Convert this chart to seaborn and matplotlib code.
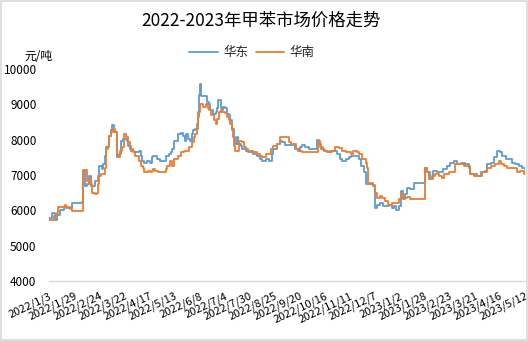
import matplotlib
matplotlib.use("Agg")
import matplotlib.pyplot as plt
import matplotlib.dates as mdates
from matplotlib.patches import Rectangle
import pandas as pd
import seaborn as sns

# 华东 toluene price, 元/吨 (date of each price change)
east_dates = [
    "2022-01-03", "2022-01-06", "2022-01-09", "2022-01-11", "2022-01-14", "2022-01-18",
    "2022-01-21", "2022-01-27", "2022-02-06", "2022-02-07", "2022-02-09", "2022-02-11",
    "2022-02-13", "2022-02-15", "2022-02-20", "2022-02-23", "2022-02-24", "2022-02-27",
    "2022-02-28", "2022-03-02", "2022-03-03", "2022-03-06", "2022-03-08", "2022-03-09",
    "2022-03-11", "2022-03-14", "2022-03-15", "2022-03-17", "2022-03-19", "2022-03-21",
    "2022-03-25", "2022-03-26", "2022-03-29", "2022-04-01", "2022-04-06", "2022-04-08",
    "2022-04-09", "2022-04-12", "2022-04-15", "2022-04-18", "2022-04-20", "2022-04-21",
    "2022-04-25", "2022-04-28", "2022-05-04", "2022-05-07", "2022-05-10", "2022-05-11",
    "2022-05-13", "2022-05-17", "2022-05-20", "2022-05-22", "2022-05-24", "2022-05-25",
    "2022-05-27", "2022-05-29", "2022-05-31", "2022-06-01", "2022-06-04", "2022-06-07",
    "2022-06-08", "2022-06-09", "2022-06-10", "2022-06-16", "2022-06-18", "2022-06-19",
    "2022-06-22", "2022-06-25", "2022-06-26", "2022-06-27", "2022-06-30", "2022-07-02",
    "2022-07-03", "2022-07-05", "2022-07-07", "2022-07-09", "2022-07-10", "2022-07-12",
    "2022-07-14", "2022-07-15", "2022-07-17", "2022-07-18", "2022-07-21", "2022-07-22",
    "2022-07-26", "2022-07-29", "2022-08-02", "2022-08-03", "2022-08-07", "2022-08-10",
    "2022-08-12", "2022-08-16", "2022-08-19", "2022-08-22", "2022-08-24", "2022-08-28",
    "2022-08-31", "2022-09-02", "2022-09-05", "2022-09-15", "2022-09-18", "2022-09-21",
    "2022-09-23", "2022-09-26", "2022-09-30", "2022-10-08", "2022-10-10", "2022-10-12",
    "2022-10-15", "2022-10-19", "2022-10-22", "2022-10-29", "2022-11-01", "2022-11-03",
    "2022-11-07", "2022-11-10", "2022-11-13", "2022-11-21", "2022-11-23", "2022-11-26",
    "2022-11-28", "2022-12-05", "2022-12-07", "2022-12-10", "2022-12-13", "2022-12-16",
    "2022-12-22", "2022-12-25", "2022-12-27", "2022-12-29", "2023-01-01", "2023-01-03",
    "2023-01-05", "2023-01-08", "2023-01-10", "2023-01-13", "2023-01-17", "2023-01-28",
    "2023-01-30", "2023-02-03", "2023-02-06", "2023-02-10", "2023-02-16", "2023-02-20",
    "2023-02-23", "2023-02-27", "2023-03-03", "2023-03-07", "2023-03-11", "2023-03-15",
    "2023-03-16", "2023-03-23", "2023-03-28", "2023-04-01", "2023-04-03", "2023-04-07",
    "2023-04-10", "2023-04-13", "2023-04-16", "2023-04-18", "2023-04-22", "2023-04-29",
    "2023-05-02", "2023-05-06", "2023-05-09", "2023-05-12",
]
east_prices = [
    5780, 5920, 5730, 5880, 6020, 6090,
    6070, 6210, 6240, 7110, 6690, 6730,
    6970, 6690, 6830, 6970, 7260, 7160,
    7300, 7540, 7780, 8110, 8260, 8400,
    8210, 7690, 7500, 7590, 7970, 8020,
    7970, 7830, 7690, 7640, 7690, 7540,
    7400, 7350, 7400, 7350, 7500, 7540,
    7450, 7400, 7540, 7590, 7640, 7730,
    7970, 8160, 8180, 8110, 7970, 8160,
    8020, 7970, 8160, 8260, 8300, 8640,
    9260, 9570, 9220, 9070, 9020, 8830,
    8730, 8780, 8880, 9110, 8880, 8830,
    8920, 8880, 8730, 8690, 8540, 8300,
    8070, 7880, 8070, 7880, 7830, 7730,
    7690, 7640, 7690, 7590, 7540, 7450,
    7400, 7450, 7400, 7590, 7730, 7880,
    7970, 7920, 7850, 7730, 7690, 7780,
    7860, 7780, 7730, 7990, 7880, 7730,
    7690, 7640, 7690, 7590, 7450, 7400,
    7450, 7500, 7540, 7450, 7260, 7070,
    6730, 6690, 6070, 6160, 6210, 6110,
    6160, 6070, 6110, 6020, 6110, 6540,
    6310, 6450, 6640, 6590, 6780, 7210,
    7070, 6880, 7110, 7070, 7160, 7260,
    7350, 7400, 7310, 7350, 7310, 7260,
    7020, 6970, 7070, 7110, 7310, 7350,
    7500, 7670, 7640, 7540, 7450, 7350,
    7310, 7260, 7210, 7160,
]

# 华南 toluene price, 元/吨
south_dates = [
    "2022-01-03", "2022-01-08", "2022-01-11", "2022-01-12", "2022-01-20", "2022-01-21",
    "2022-01-25", "2022-01-27", "2022-02-06", "2022-02-07", "2022-02-11", "2022-02-13",
    "2022-02-14", "2022-02-16", "2022-02-17", "2022-02-20", "2022-02-22", "2022-02-23",
    "2022-02-24", "2022-02-26", "2022-03-02", "2022-03-03", "2022-03-05", "2022-03-06",
    "2022-03-08", "2022-03-10", "2022-03-12", "2022-03-14", "2022-03-15", "2022-03-17",
    "2022-03-18", "2022-03-20", "2022-03-22", "2022-03-24", "2022-03-26", "2022-03-28",
    "2022-03-31", "2022-04-02", "2022-04-06", "2022-04-08", "2022-04-10", "2022-04-12",
    "2022-04-16", "2022-04-18", "2022-04-20", "2022-04-21", "2022-04-23", "2022-04-26",
    "2022-05-04", "2022-05-05", "2022-05-09", "2022-05-11", "2022-05-13", "2022-05-17",
    "2022-05-20", "2022-05-23", "2022-05-28", "2022-05-31", "2022-06-02", "2022-06-04",
    "2022-06-06", "2022-06-07", "2022-06-09", "2022-06-12", "2022-06-15", "2022-06-17",
    "2022-06-18", "2022-06-20", "2022-06-23", "2022-06-25", "2022-06-26", "2022-06-28",
    "2022-06-30", "2022-07-02", "2022-07-05", "2022-07-07", "2022-07-09", "2022-07-10",
    "2022-07-12", "2022-07-13", "2022-07-14", "2022-07-15", "2022-07-19", "2022-07-22",
    "2022-07-24", "2022-07-26", "2022-07-29", "2022-08-02", "2022-08-07", "2022-08-10",
    "2022-08-12", "2022-08-16", "2022-08-21", "2022-08-24", "2022-08-28", "2022-08-31",
    "2022-09-09", "2022-09-11", "2022-09-16", "2022-09-19", "2022-09-23", "2022-10-09",
    "2022-10-11", "2022-10-14", "2022-10-17", "2022-10-20", "2022-10-24", "2022-10-27",
    "2022-10-31", "2022-11-03", "2022-11-07", "2022-11-12", "2022-11-15", "2022-11-19",
    "2022-11-21", "2022-11-24", "2022-11-28", "2022-11-29", "2022-11-30", "2022-12-05",
    "2022-12-07", "2022-12-10", "2022-12-13", "2022-12-15", "2022-12-18", "2022-12-21",
    "2022-12-25", "2023-01-01", "2023-01-03", "2023-01-06", "2023-01-10", "2023-01-13",
    "2023-01-28", "2023-01-30", "2023-02-02", "2023-02-05", "2023-02-08", "2023-02-12",
    "2023-02-15", "2023-02-17", "2023-02-22", "2023-02-28", "2023-03-10", "2023-03-15",
    "2023-03-16", "2023-03-20", "2023-03-29", "2023-04-03", "2023-04-07", "2023-04-11",
    "2023-04-15", "2023-04-17", "2023-04-20", "2023-04-24", "2023-05-04", "2023-05-07",
    "2023-05-11", "2023-05-12",
]
south_prices = [
    5720, 5850, 5920, 6090, 6140, 6090,
    6040, 5970, 5970, 7130, 6830, 6730,
    6920, 6730, 6500, 6450, 6500, 6730,
    6970, 7020, 7210, 7730, 7830, 8110,
    8210, 8300, 8210, 8070, 7540, 7500,
    7690, 7780, 8160, 8070, 7920, 7730,
    7640, 7540, 7400, 7260, 7210, 7070,
    7110, 7070, 7110, 7160, 7110, 7070,
    7160, 7260, 7400, 7260, 7450, 7540,
    7640, 7690, 7780, 7920, 8070, 8160,
    8450, 8780, 9020, 8920, 9020, 8880,
    8830, 8690, 8540, 8450, 8590, 8780,
    8830, 8780, 8760, 8640, 8540, 8450,
    8260, 8070, 7830, 7690, 7970, 7920,
    7780, 7730, 7690, 7640, 7590, 7540,
    7500, 7590, 7730, 7830, 7880, 8070,
    7920, 7880, 7730, 7690, 7640, 7970,
    7780, 7710, 7690, 7640, 7690, 7780,
    7760, 7690, 7640, 7590, 7690, 7640,
    7590, 7450, 7350, 7210, 6780, 6710,
    6500, 6350, 6400, 6350, 6260, 6160,
    6210, 6310, 6450, 6350, 6370, 6330,
    7210, 7070, 6880, 6970, 7020, 6970,
    6920, 7020, 7070, 7310, 7260, 7210,
    7020, 6970, 7070, 7210, 7260, 7310,
    7400, 7310, 7260, 7190, 7070, 7100,
    7020, 7020,
]

series_names = ["华东", "华南"]
series_colors = ["#5B9BD5", "#ED7D31"]
x_tick_labels = [
    "2022/1/3", "2022/1/29", "2022/2/24", "2022/3/22", "2022/4/17", "2022/5/13",
    "2022/6/8", "2022/7/4", "2022/7/30", "2022/8/25", "2022/9/20", "2022/10/16",
    "2022/11/11", "2022/12/7", "2023/1/2", "2023/1/28", "2023/2/23", "2023/3/21",
    "2023/4/16", "2023/5/12",
]
y_ticks = [4000, 5000, 6000, 7000, 8000, 9000, 10000]

df = pd.concat([
    pd.DataFrame({"日期": pd.to_datetime(east_dates), "价格": east_prices, "地区": series_names[0]}),
    pd.DataFrame({"日期": pd.to_datetime(south_dates), "价格": south_prices, "地区": series_names[1]}),
], ignore_index=True)

sns.set_theme(style="white")
plt.rcParams["font.family"] = ["Noto Sans CJK SC", "DejaVu Sans"]

fig = plt.figure(figsize=(5.28, 3.41), dpi=100)
ax = fig.add_axes([0.093, 0.176, 0.901, 0.622])

sns.lineplot(data=df, x="日期", y="价格", hue="地区", hue_order=series_names,
             palette=series_colors, estimator=None, drawstyle="steps-post",
             linewidth=1.3, ax=ax, legend=True)

tick_pos = pd.to_datetime(x_tick_labels, format="%Y/%m/%d")
ax.set_xlim(tick_pos[0], tick_pos[-1])
ax.set_xticks(tick_pos)
ax.set_xticklabels(x_tick_labels, rotation=25, ha="right", rotation_mode="anchor",
                   fontsize=8)
ax.set_ylim(y_ticks[0], y_ticks[-1])
ax.set_yticks(y_ticks)
ax.set_yticklabels([str(v) for v in y_ticks], fontsize=8.5)
ax.set_xlabel("")
ax.set_ylabel("")

for side in ("left", "right", "top"):
    ax.spines[side].set_visible(False)
ax.spines["bottom"].set_color("#D9D9D9")
ax.spines["bottom"].set_linewidth(1)
ax.tick_params(axis="x", direction="out", length=4, width=1, color="#D9D9D9",
               pad=3, labelcolor="#000000")
ax.tick_params(axis="y", length=0, pad=9, labelcolor="#000000")
ax.grid(False)

handles, labels = ax.get_legend_handles_labels()
ax.get_legend().remove()
fig.legend(handles, labels, loc="center", bbox_to_anchor=(0.477, 0.845),
           ncol=2, frameon=False, fontsize=9, handlelength=2.3,
           columnspacing=0.6, handletextpad=0.4)

fig.text(0.495, 0.94, "2022-2023年甲苯市场价格走势", ha="center", va="center",
         fontsize=12.5, color="#000000")
fig.text(0.072, 0.835, "元/吨", ha="center", va="center", fontsize=8.5, color="#000000")

fig.patches.append(Rectangle((0.001, 0.002), 0.997, 0.996, transform=fig.transFigure,
                             fill=False, edgecolor="#D9D9D9", linewidth=1.2))

fig.savefig("out.png", dpi=100)
